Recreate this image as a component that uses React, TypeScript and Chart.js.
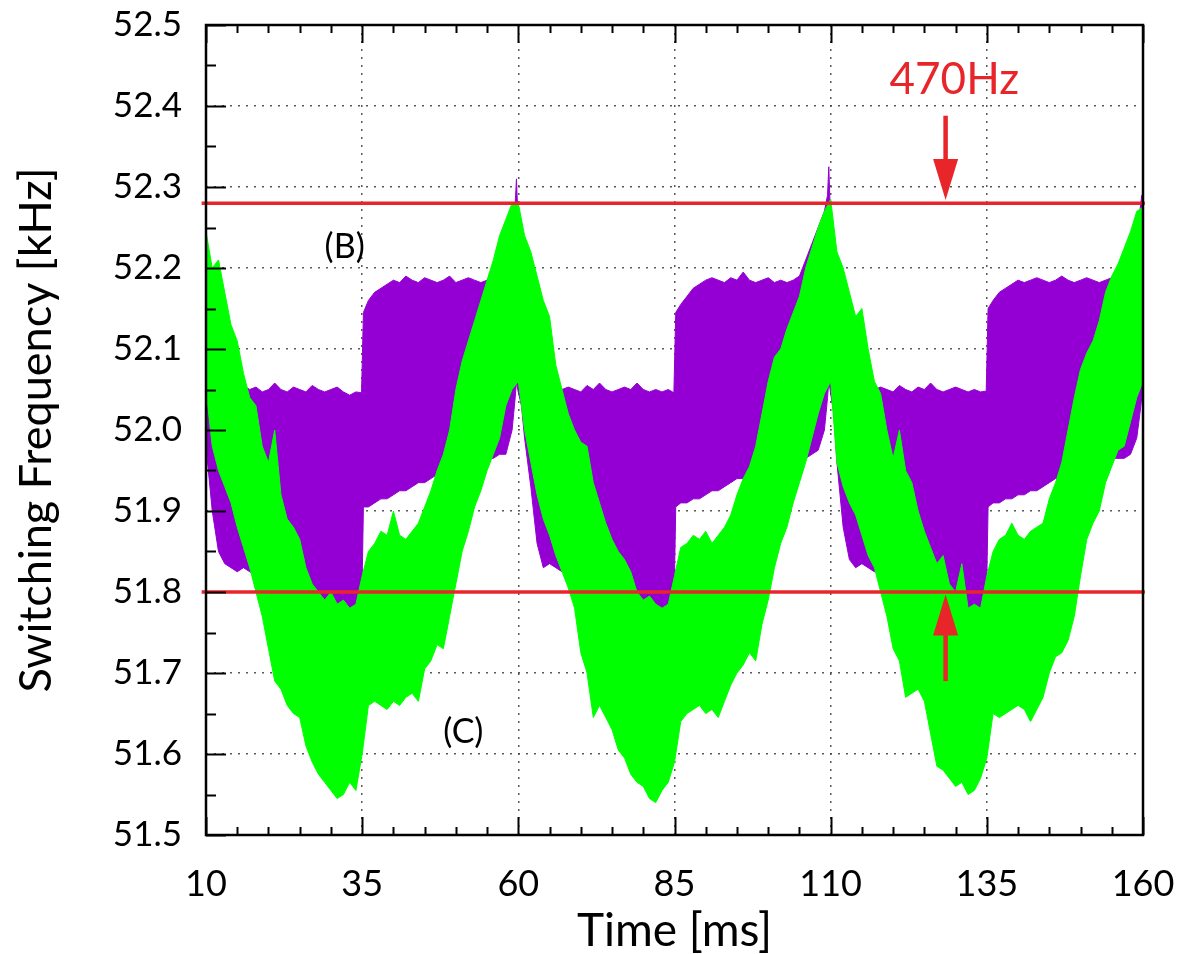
import React, { useEffect, useRef } from "react";
import { Chart, registerables } from "chart.js";

Chart.register(...registerables);

// ---------------- data ----------------
// Time axis of the green band (C), ms
const greenTime = [
  10, 11, 12, 13, 14, 15, 16, 17, 18, 19, 20, 21, 22, 23, 24, 25, 26, 27, 28, 29, 30, 31, 32, 33, 34, 35,
  36, 37, 38, 39, 40, 41, 42, 43, 44, 45, 46, 47, 48, 49, 50, 51, 52, 53, 54, 55, 56, 57, 58, 59, 60,
  61, 62, 63, 64, 65, 66, 67, 68, 69, 70, 71, 72, 73, 74, 75, 76, 77, 78, 79, 80, 81, 82, 83, 84, 85,
  86, 87, 88, 89, 90, 91, 92, 93, 94, 95, 96, 97, 98, 99, 100, 101, 102, 103, 104, 105, 106, 107, 108, 109, 110,
  111, 112, 113, 114, 115, 116, 117, 118, 119, 120, 121, 122, 123, 124, 125, 126, 127, 128, 129, 130, 131, 132, 133, 134, 135,
  136, 137, 138, 139, 140, 141, 142, 143, 144, 145, 146, 147, 148, 149, 150, 151, 152, 153, 154, 155, 156, 157, 158, 159, 160,
];
// Upper envelope of (C), kHz
const greenUpper = [
  52.245, 52.2, 52.21, 52.17, 52.13, 52.11, 52.07, 52.04, 52.03, 51.98, 51.96, 52.0, 51.92, 51.89, 51.88, 51.865, 51.83, 51.81, 51.8, 51.79, 51.8, 51.785, 51.79, 51.78, 51.785, 51.82,
  51.85, 51.86, 51.875, 51.87, 51.9, 51.87, 51.865, 51.875, 51.885, 51.905, 51.925, 51.95, 51.97, 52.0, 52.05, 52.085, 52.11, 52.135, 52.16, 52.185, 52.21, 52.24, 52.26, 52.28, 52.28,
  52.24, 52.22, 52.19, 52.16, 52.14, 52.08, 52.05, 52.02, 52.0, 51.985, 51.98, 51.935, 51.91, 51.885, 51.865, 51.85, 51.84, 51.825, 51.8, 51.79, 51.795, 51.785, 51.78, 51.785, 51.82,
  51.855, 51.86, 51.87, 51.865, 51.875, 51.86, 51.87, 51.88, 51.895, 51.92, 51.94, 51.955, 51.98, 52.02, 52.06, 52.09, 52.1, 52.125, 52.145, 52.165, 52.2, 52.225, 52.25, 52.27, 52.285,
  52.22, 52.2, 52.17, 52.14, 52.15, 52.1, 52.06, 52.045, 52.0, 51.965, 52.0, 51.95, 51.935, 51.9, 51.875, 51.855, 51.835, 51.845, 51.81, 51.8, 51.835, 51.78, 51.785, 51.78, 51.82,
  51.85, 51.865, 51.87, 51.885, 51.87, 51.865, 51.875, 51.88, 51.885, 51.915, 51.935, 51.96, 52.0, 52.04, 52.075, 52.095, 52.11, 52.135, 52.17, 52.19, 52.205, 52.225, 52.245, 52.27, 52.275,
];
// Lower envelope of (C), kHz
const greenLower = [
  52.05, 51.98, 51.95, 51.93, 51.91, 51.88, 51.855, 51.83, 51.8, 51.77, 51.73, 51.69, 51.68, 51.66, 51.65, 51.645, 51.61, 51.59, 51.575, 51.565, 51.555, 51.545, 51.55, 51.565, 51.555, 51.6,
  51.66, 51.665, 51.66, 51.655, 51.665, 51.66, 51.67, 51.675, 51.665, 51.705, 51.715, 51.735, 51.73, 51.77, 51.81, 51.85, 51.875, 51.905, 51.925, 51.95, 51.97, 51.99, 52.03, 52.05, 52.06,
  52.0, 51.96, 51.92, 51.89, 51.87, 51.845, 51.825, 51.805, 51.78, 51.725, 51.7, 51.645, 51.66, 51.645, 51.63, 51.605, 51.595, 51.575, 51.565, 51.56, 51.545, 51.54, 51.555, 51.565, 51.59,
  51.64, 51.65, 51.655, 51.66, 51.65, 51.655, 51.645, 51.665, 51.685, 51.7, 51.71, 51.725, 51.715, 51.76, 51.79, 51.83, 51.86, 51.88, 51.91, 51.935, 51.96, 51.99, 52.02, 52.045, 52.06,
  51.96, 51.93, 51.91, 51.895, 51.87, 51.845, 51.83, 51.8, 51.77, 51.73, 51.715, 51.67, 51.675, 51.68, 51.665, 51.625, 51.585, 51.58, 51.57, 51.56, 51.565, 51.55, 51.555, 51.57, 51.595,
  51.65, 51.645, 51.65, 51.655, 51.66, 51.655, 51.64, 51.655, 51.67, 51.7, 51.72, 51.725, 51.74, 51.77, 51.82, 51.865, 51.885, 51.9, 51.935, 51.955, 51.975, 51.98, 52.01, 52.04, 52.06,
];

// Time axis of the purple band (B), ms
const purpleTime = [
  10, 11, 12, 13, 14, 15, 16, 17, 18, 19, 20, 21, 22, 23, 24, 25, 26, 27, 28, 29, 30, 31, 32, 33, 34, 34.9,
  35.2, 36, 37, 38, 39, 40, 41, 42, 43, 44, 45, 46, 47, 48, 49, 50, 51, 52, 53, 54, 55, 56, 57, 58, 59, 59.5, 59.7, 59.9,
  60.5, 61, 62, 63, 64, 65, 66, 67, 68, 69, 70, 71, 72, 73, 74, 75, 76, 77, 78, 79, 80, 81, 82, 83, 84, 84.9,
  85.2, 86, 87, 88, 89, 90, 91, 92, 93, 94, 95, 96, 97, 98, 99, 100, 101, 102, 103, 104, 105, 106, 107, 108, 109, 109.5, 109.7, 109.9,
  110.5, 111, 112, 113, 114, 115, 116, 117, 118, 119, 120, 121, 122, 123, 124, 125, 126, 127, 128, 129, 130, 131, 132, 133, 134, 134.9,
  135.2, 136, 137, 138, 139, 140, 141, 142, 143, 144, 145, 146, 147, 148, 149, 150, 151, 152, 153, 154, 155, 156, 157, 158, 159, 159.5, 159.8, 160,
];
// Upper envelope of (B), kHz
const purpleUpper = [
  52.2, 52.17, 52.14, 52.11, 52.09, 52.07, 52.055, 52.05, 52.053, 52.047, 52.05, 52.058, 52.05, 52.047, 52.053, 52.05, 52.047, 52.055, 52.05, 52.047, 52.05, 52.053, 52.047, 52.043, 52.047, 52.046,
  52.145, 52.16, 52.17, 52.175, 52.18, 52.185, 52.182, 52.19, 52.185, 52.182, 52.188, 52.185, 52.182, 52.185, 52.19, 52.182, 52.185, 52.188, 52.185, 52.182, 52.185, 52.2, 52.22, 52.24, 52.26, 52.28, 52.31, 52.27,
  52.23, 52.21, 52.17, 52.14, 52.11, 52.09, 52.065, 52.05, 52.053, 52.05, 52.047, 52.055, 52.05, 52.058, 52.05, 52.047, 52.05, 52.053, 52.05, 52.058, 52.05, 52.047, 52.05, 52.047, 52.05, 52.046,
  52.145, 52.155, 52.165, 52.175, 52.18, 52.185, 52.188, 52.185, 52.182, 52.188, 52.185, 52.195, 52.185, 52.182, 52.185, 52.188, 52.182, 52.185, 52.182, 52.185, 52.19, 52.21, 52.23, 52.25, 52.27, 52.29, 52.325, 52.28,
  52.23, 52.21, 52.17, 52.14, 52.11, 52.09, 52.07, 52.05, 52.053, 52.05, 52.047, 52.055, 52.05, 52.047, 52.053, 52.05, 52.058, 52.05, 52.047, 52.05, 52.053, 52.05, 52.047, 52.05, 52.047, 52.048,
  52.15, 52.16, 52.17, 52.175, 52.18, 52.185, 52.182, 52.185, 52.188, 52.185, 52.182, 52.185, 52.19, 52.185, 52.182, 52.185, 52.188, 52.185, 52.182, 52.185, 52.188, 52.2, 52.22, 52.24, 52.26, 52.27, 52.29, 52.29,
];
// Lower envelope of (B), kHz
const purpleLower = [
  51.98, 51.9, 51.85, 51.835, 51.83, 51.825, 51.83, 51.825, 51.82, 51.82, 51.815, 51.81, 51.81, 51.805, 51.8, 51.8, 51.795, 51.79, 51.785, 51.78, 51.775, 51.78, 51.775, 51.77, 51.775, 51.77,
  51.905, 51.905, 51.91, 51.915, 51.915, 51.92, 51.925, 51.925, 51.93, 51.935, 51.935, 51.94, 51.945, 51.945, 51.95, 51.955, 51.955, 51.96, 51.96, 51.965, 51.965, 51.965, 51.97, 51.97, 52.0, 52.04, 52.06, 52.05,
  52.03, 51.99, 51.93, 51.86, 51.83, 51.835, 51.83, 51.825, 51.83, 51.825, 51.82, 51.815, 51.81, 51.81, 51.805, 51.8, 51.8, 51.795, 51.79, 51.785, 51.785, 51.78, 51.78, 51.775, 51.78, 51.775,
  51.905, 51.91, 51.91, 51.915, 51.915, 51.92, 51.925, 51.925, 51.93, 51.935, 51.94, 51.94, 51.945, 51.945, 51.95, 51.95, 51.955, 51.96, 51.96, 51.965, 51.965, 51.965, 51.97, 51.975, 52.0, 52.04, 52.06, 52.05,
  52.02, 51.96, 51.88, 51.84, 51.83, 51.835, 51.83, 51.825, 51.83, 51.825, 51.82, 51.815, 51.81, 51.81, 51.805, 51.8, 51.8, 51.795, 51.79, 51.785, 51.78, 51.78, 51.775, 51.78, 51.775, 51.775,
  51.905, 51.91, 51.91, 51.915, 51.915, 51.92, 51.92, 51.925, 51.925, 51.93, 51.935, 51.94, 51.94, 51.945, 51.95, 51.95, 51.955, 51.96, 51.96, 51.965, 51.965, 51.965, 51.965, 51.97, 51.99, 52.02, 52.04, 52.05,
];

// Red limit lines (kHz), spanning the plot
const limitTime = [9.3, 160.3];
const upperLimit = [52.28, 52.28];
const lowerLimit = [51.8, 51.8];

// Axis ticks
const xTickValues = [10, 35, 60, 85, 110, 135, 160];
const yTickValues = [51.5, 51.6, 51.7, 51.8, 51.9, 52.0, 52.1, 52.2, 52.3, 52.4, 52.5];
const xMinorStep = 5;
const yMinorStep = 0.05;

// Annotations (data coordinates)
const bandLabels = [
  { text: "(B)", t: 32.2, f: 52.212 },
  { text: "(C)", t: 51.2, f: 51.614 },
];
const spreadLabel = { text: "470Hz", t: 129.8, f: 52.415 };
const arrowTime = 128.4;
const downArrow = { from: 52.388, to: 52.284 };
const upArrow = { from: 51.69, to: 51.797 };

// ---------------- styles ----------------
const GREEN = "#00ff00";
const PURPLE = "#9400d3";
const RED = "#e8262a";
const FONT = "Lato, 'Open Sans', sans-serif";

function drawArrow(ctx: CanvasRenderingContext2D, x: number, y0: number, y1: number) {
  const dir = y1 > y0 ? 1 : -1;
  const headLen = 41;
  const headHalf = 12.5;
  const baseY = y1 - dir * headLen;
  ctx.strokeStyle = RED;
  ctx.fillStyle = RED;
  ctx.lineWidth = 4.5;
  ctx.beginPath();
  ctx.moveTo(x, y0);
  ctx.lineTo(x, baseY + dir * 2);
  ctx.stroke();
  ctx.beginPath();
  ctx.moveTo(x - headHalf, baseY);
  ctx.lineTo(x + headHalf, baseY);
  ctx.lineTo(x, y1);
  ctx.closePath();
  ctx.fill();
}

const decorPlugin = {
  id: "decor",
  afterDatasetsDraw(chart: any) {
    const { ctx, chartArea: a, scales } = chart;
    const x = scales.x;
    const y = scales.y;
    ctx.save();

    // inward ticks: bottom & top (x), left (y)
    ctx.strokeStyle = "#000";
    ctx.lineWidth = 2;
    const xMin = xTickValues[0];
    const xMax = xTickValues[xTickValues.length - 1];
    for (let v = xMin; v <= xMax + 1e-9; v += xMinorStep) {
      const major = xTickValues.includes(v);
      const len = major ? 18 : 8;
      const px = Math.round(x.getPixelForValue(v)) + 0.5;
      ctx.beginPath();
      ctx.moveTo(px, a.bottom);
      ctx.lineTo(px, a.bottom - len);
      ctx.moveTo(px, a.top);
      ctx.lineTo(px, a.top + len);
      ctx.stroke();
    }
    const yMin = yTickValues[0];
    const yMax = yTickValues[yTickValues.length - 1];
    for (let k = 0; yMin + k * yMinorStep <= yMax + 1e-9; k++) {
      const v = yMin + k * yMinorStep;
      const len = k % 2 === 0 ? 20 : 10;
      const py = Math.round(y.getPixelForValue(v)) + 0.5;
      ctx.beginPath();
      ctx.moveTo(a.left, py);
      ctx.lineTo(a.left + len, py);
      ctx.stroke();
    }

    // frame
    ctx.lineWidth = 2.5;
    ctx.strokeRect(a.left, a.top, a.right - a.left, a.bottom - a.top);

    // arrows
    const ax = x.getPixelForValue(arrowTime);
    drawArrow(ctx, ax, y.getPixelForValue(downArrow.from), y.getPixelForValue(downArrow.to));
    drawArrow(ctx, ax, y.getPixelForValue(upArrow.from), y.getPixelForValue(upArrow.to));

    // texts
    ctx.textAlign = "center";
    ctx.textBaseline = "alphabetic";
    ctx.fillStyle = RED;
    ctx.font = `44px ${FONT}`;
    ctx.fillText(spreadLabel.text, x.getPixelForValue(spreadLabel.t), y.getPixelForValue(spreadLabel.f));
    ctx.fillStyle = "#000";
    ctx.font = `34px ${FONT}`;
    for (const l of bandLabels) {
      ctx.fillText(l.text, x.getPixelForValue(l.t), y.getPixelForValue(l.f));
    }
    ctx.restore();
  },
};

export default function App() {
  const ref = useRef<HTMLCanvasElement | null>(null);

  useEffect(() => {
    if (!ref.current) return;
    const pts = (ts: number[], vs: number[]) => ts.map((t, i) => ({ x: t, y: vs[i] }));
    const band = (color: string) => ({
      borderColor: color,
      backgroundColor: color,
      borderWidth: 1,
      pointRadius: 0,
      pointHoverRadius: 0,
      tension: 0,
    });
    const chart = new Chart(ref.current, {
      type: "line",
      data: {
        datasets: [
          {
            label: "upper limit",
            data: pts(limitTime, upperLimit),
            borderColor: RED,
            borderWidth: 3.5,
            pointRadius: 0,
            fill: false,
            clip: false,
          } as any,
          {
            label: "lower limit",
            data: pts(limitTime, lowerLimit),
            borderColor: RED,
            borderWidth: 3.5,
            pointRadius: 0,
            fill: false,
            clip: false,
          } as any,
          { label: "(C) upper", data: pts(greenTime, greenUpper), ...band(GREEN), fill: "+1" },
          { label: "(C) lower", data: pts(greenTime, greenLower), ...band(GREEN), fill: false },
          { label: "(B) upper", data: pts(purpleTime, purpleUpper), ...band(PURPLE), fill: "+1" },
          { label: "(B) lower", data: pts(purpleTime, purpleLower), ...band(PURPLE), fill: false },
        ],
      },
      options: {
        responsive: false,
        animation: false,
        events: [],
        layout: { padding: { left: 0, right: 37, top: 25, bottom: 0 } },
        plugins: {
          legend: { display: false },
          tooltip: { enabled: false },
          title: { display: false },
        },
        scales: {
          x: {
            type: "linear",
            min: 10,
            max: 160,
            afterBuildTicks: (s: any) => {
              s.ticks = xTickValues.map((v) => ({ value: v }));
            },
            afterFit: (s: any) => {
              s.height = 119;
              s.paddingLeft = 0;
              s.paddingRight = 0;
            },
            grid: { color: "rgba(70,70,70,0.9)", lineWidth: 1.5, drawTicks: false },
            border: { display: false, dash: [2, 6] },
            ticks: {
              color: "#000",
              font: { family: FONT, size: 36 },
              padding: 28,
              maxRotation: 0,
              autoSkip: false,
              callback: (v: any) => String(v),
            },
            title: {
              display: true,
              text: "Time [ms]",
              color: "#000",
              font: { family: FONT, size: 46, lineHeight: 1 },
              padding: { top: 0, bottom: 0 },
            },
          },
          y: {
            type: "linear",
            min: 51.5,
            max: 52.5,
            afterBuildTicks: (s: any) => {
              s.ticks = yTickValues.map((v) => ({ value: v }));
            },
            afterFit: (s: any) => {
              s.width = 206;
              s.paddingTop = 0;
              s.paddingBottom = 0;
            },
            grid: { color: "rgba(70,70,70,0.9)", lineWidth: 1.5, drawTicks: false },
            border: { display: false, dash: [2, 6] },
            ticks: {
              color: "#000",
              font: { family: FONT, size: 35 },
              padding: 24,
              autoSkip: false,
              callback: (v: any) => Number(v).toFixed(1),
            },
            title: {
              display: true,
              text: "Switching Frequency [kHz]",
              color: "#000",
              font: { family: FONT, size: 45, lineHeight: 1.2 },
              padding: { top: 9, bottom: 0 },
            },
          },
        },
      } as any,
      plugins: [decorPlugin],
    });
    return () => chart.destroy();
  }, []);

  return (
    <div style={{ position: "absolute", left: 0, top: 0, width: 1180, height: 954, background: "#fff" }}>
      <canvas ref={ref} width={1180} height={954} style={{ display: "block" }} />
    </div>
  );
}
